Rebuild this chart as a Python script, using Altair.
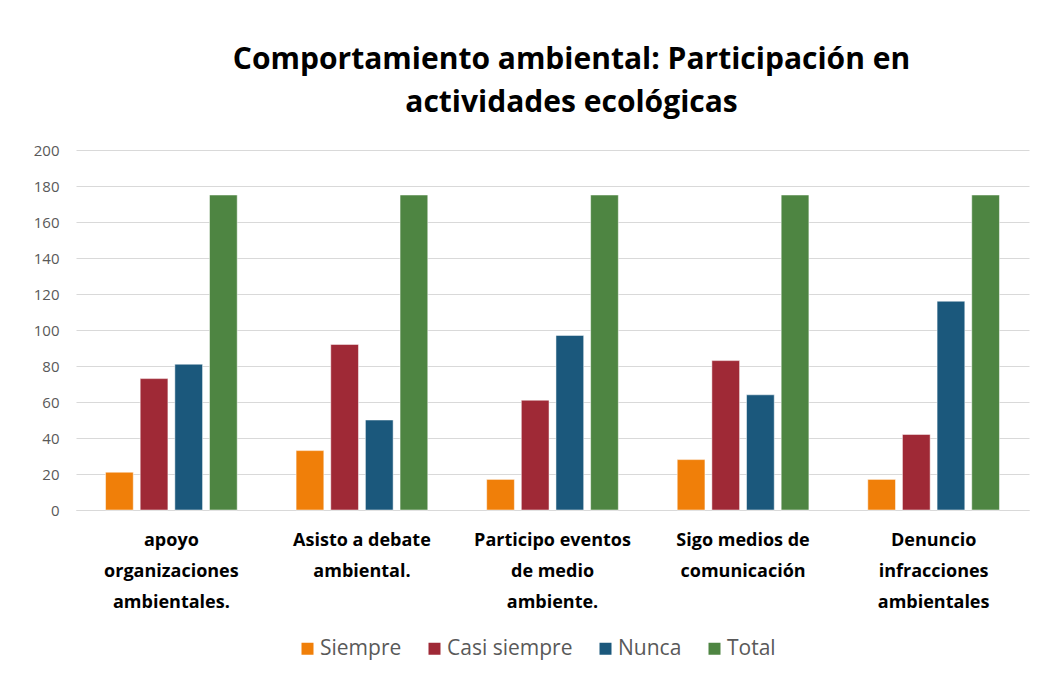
import altair as alt
import pandas as pd

categorias = [
    "apoyo\norganizaciones\nambientales.",
    "Asisto a debate\nambiental.",
    "Participo eventos\nde medio\nambiente.",
    "Sigo medios de\ncomunicación",
    "Denuncio\ninfracciones\nambientales",
]
series = ["Siempre", "Casi siempre", "Nunca", "Total"]
siempre = [21, 33, 17, 28, 17]
casi_siempre = [73, 92, 61, 83, 42]
nunca = [81, 50, 97, 64, 116]
total = [175, 175, 175, 175, 175]
colores = ["#F07F09", "#9F2936", "#1B587C", "#4E8542"]
y_ticks = list(range(0, 201, 20))

rows = []
for s, vals in zip(series, [siempre, casi_siempre, nunca, total]):
    for c, v in zip(categorias, vals):
        rows.append({"categoria": c, "serie": s, "valor": v})
df = pd.DataFrame(rows)

FONT = "Open Sans"

chart = alt.Chart(df).mark_bar(stroke="white", strokeWidth=0.5).encode(
    x=alt.X(
        "categoria:N",
        sort=categorias,
        scale=alt.Scale(paddingInner=0.309, paddingOuter=0.155),
        axis=alt.Axis(
            title=None,
            labelAngle=0,
            labelExpr="split(datum.value, '\\n')",
            labelFontWeight="bold",
            labelFontSize=18,
            labelColor="#000000",
            labelLineHeight=31,
            labelPadding=21,
            labelLimit=300,
            ticks=False,
            domainColor="#D9D9D9",
            domainWidth=1,
        ),
    ),
    xOffset=alt.XOffset("serie:N", sort=series, scale=alt.Scale(paddingInner=0.2)),
    y=alt.Y(
        "valor:Q",
        scale=alt.Scale(domain=[0, 200]),
        axis=alt.Axis(
            title=None,
            values=y_ticks,
            grid=True,
            gridColor="#D9D9D9",
            domain=False,
            ticks=False,
            labelPadding=17,
            labelFontSize=15,
            labelColor="#595959",
        ),
    ),
    color=alt.Color(
        "serie:N",
        sort=series,
        scale=alt.Scale(domain=series, range=colores),
        legend=alt.Legend(
            title=None,
            orient="none",
            direction="horizontal",
            legendX=221,
            legendY=488,
            symbolType="square",
            symbolSize=144,
            symbolStrokeWidth=0,
            labelFontSize=21,
            labelColor="#595959",
            labelOffset=2,
            columnPadding=22,
        ),
    ),
).properties(
    width=953,
    height=360,
    title=alt.TitleParams(
        text=["Comportamiento ambiental: Participación en", "actividades ecológicas"],
        font=FONT,
        fontSize=30,
        fontWeight="bold",
        color="#000000",
        anchor="middle",
        dx=19,
        offset=25,
        lineHeight=43,
    ),
    autosize=alt.AutoSizeParams(type="none"),
    padding={"left": 68, "top": 142, "right": 10, "bottom": 160},
).configure(font=FONT).configure_view(stroke=None)

chart.save("out.html", embed_options={"renderer": "svg", "actions": False})
